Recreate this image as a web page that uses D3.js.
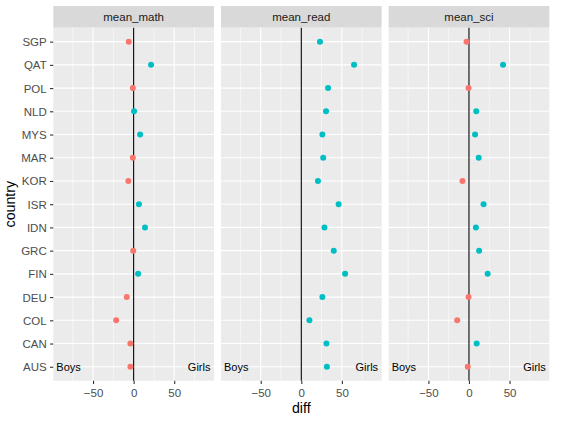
<!DOCTYPE html>
<html>
<head>
<meta charset="utf-8">
<script src="https://cdn.jsdelivr.net/npm/d3@7"></script>
<style>
  html, body { margin: 0; padding: 0; background: #fff; }
  svg { display: block; font-family: "Liberation Sans", Arial, Helvetica, sans-serif; }
</style>
</head>
<body>
<script>
// ---- data ----
const countries = ["SGP","QAT","POL","NLD","MYS","MAR","KOR","ISR","IDN","GRC","FIN","DEU","COL","CAN","AUS"];
const subjects = ["mean_math","mean_read","mean_sci"];
const mathVals = [-6, 21.5, -1, 0.5, 8, -1, -6.5, 6.5, 14, -0.5, 5.5, -8.5, -21.5, -4, -4];
const readVals = [23, 65, 33, 30.5, 26, 27, 20.5, 46, 28.5, 40, 54, 26, 10, 31, 31.5];
const sciVals  = [-3, 42, -0.5, 9, 7.5, 12, -8, 18, 8.5, 12.5, 23, -0.5, -14.5, 9.5, -1.5];
const xTicks = [-50, 0, 50];
const xMinor = [-75, -25, 25, 75];
const annotLeft = "Boys";
const annotRight = "Girls";
const xTitle = "diff";
const yTitle = "country";

const valsBySubject = { mean_math: mathVals, mean_read: readVals, mean_sci: sciVals };

// ---- layout ----
const W = 564, H = 424;
const panelLeft = 53.3, panelRight = 549.3, gap = 7;
const panelTop = 27.7, panelBottom = 380.7, stripTop = 6;
const panelW = (panelRight - panelLeft - 2 * gap) / 3;
const tickFont = "11.5px";

const svg = d3.select("body").append("svg").attr("width", W).attr("height", H);

const y = d3.scalePoint()
  .domain(countries.slice().reverse())
  .range([panelBottom, panelTop])
  .padding(0.6);

const colNeg = "#F8766D", colPos = "#00BFC4";

subjects.forEach((subj, i) => {
  const x0 = panelLeft + i * (panelW + gap);
  const x = d3.scaleLinear().domain([-99, 99]).range([x0, x0 + panelW]);
  const g = svg.append("g");

  // strip
  g.append("rect").attr("x", x0).attr("y", stripTop).attr("width", panelW).attr("height", panelTop - stripTop)
    .attr("fill", "#D9D9D9");
  g.append("text").attr("x", x0 + panelW / 2).attr("y", 21.4).attr("text-anchor", "middle")
    .attr("font-size", "11.5px").attr("fill", "#1A1A1A").text(subj);

  // panel bg
  g.append("rect").attr("x", x0).attr("y", panelTop).attr("width", panelW).attr("height", panelBottom - panelTop)
    .attr("fill", "#EBEBEB");

  // minor grid
  g.selectAll(".minor").data(xMinor).enter().append("line")
    .attr("x1", d => x(d)).attr("x2", d => x(d)).attr("y1", panelTop).attr("y2", panelBottom)
    .attr("stroke", "#fff").attr("stroke-width", 0.55);
  // major grid
  g.selectAll(".majorx").data(xTicks).enter().append("line")
    .attr("x1", d => x(d)).attr("x2", d => x(d)).attr("y1", panelTop).attr("y2", panelBottom)
    .attr("stroke", "#fff").attr("stroke-width", 1.1);
  g.selectAll(".majory").data(countries).enter().append("line")
    .attr("x1", x0).attr("x2", x0 + panelW).attr("y1", d => y(d)).attr("y2", d => y(d))
    .attr("stroke", "#fff").attr("stroke-width", 1.1);

  // zero line
  g.append("line").attr("x1", x(0)).attr("x2", x(0)).attr("y1", panelTop).attr("y2", panelBottom)
    .attr("stroke", "#000").attr("stroke-width", 1.1);

  // points
  const vals = valsBySubject[subj];
  g.selectAll(".pt").data(countries).enter().append("circle")
    .attr("cx", (d, k) => x(vals[k])).attr("cy", d => y(d)).attr("r", 3)
    .attr("fill", (d, k) => vals[k] < 0 ? colNeg : colPos);

  // annotations
  g.append("text").attr("x", x0 + 3).attr("y", y("AUS") + 4).attr("font-size", "11px").attr("fill", "#000")
    .text(annotLeft);
  g.append("text").attr("x", x0 + panelW - 3.5).attr("y", y("AUS") + 4).attr("text-anchor", "end")
    .attr("font-size", "11px").attr("fill", "#000").text(annotRight);

  // x axis
  const xAxis = d3.axisBottom(x).tickValues(xTicks).tickSize(3.3).tickPadding(2.5).tickFormat(d3.format("d"));
  const ax = svg.append("g").attr("transform", `translate(0,${panelBottom})`).call(xAxis);
  ax.select(".domain").remove();
  ax.selectAll(".tick line").attr("stroke", "#333").attr("stroke-width", 1.1);
  ax.selectAll(".tick text").attr("fill", "#4D4D4D").attr("font-size", tickFont)
    .attr("font-family", "Liberation Sans, Arial, sans-serif")
    .attr("dy", null).attr("y", 16);
});

// y axis
const yAxis = d3.axisLeft(y).tickSize(3.3).tickPadding(3.3);
const ay = svg.append("g").attr("transform", `translate(${panelLeft},0)`).call(yAxis);
ay.select(".domain").remove();
ay.selectAll(".tick line").attr("stroke", "#333").attr("stroke-width", 1.1);
ay.selectAll(".tick text").attr("fill", "#4D4D4D").attr("font-size", tickFont)
  .attr("font-family", "Liberation Sans, Arial, sans-serif")
  .attr("dy", null).attr("y", 4);

// titles
svg.append("text").attr("x", panelLeft + (panelRight - panelLeft) / 2).attr("y", 413)
  .attr("text-anchor", "middle").attr("font-size", "14.2px").attr("fill", "#000").text(xTitle);
svg.append("text").attr("transform", `translate(14.5,${(panelTop + panelBottom) / 2}) rotate(-90)`)
  .attr("text-anchor", "middle").attr("font-size", "14.2px").attr("fill", "#000").text(yTitle);
</script>
</body>
</html>
